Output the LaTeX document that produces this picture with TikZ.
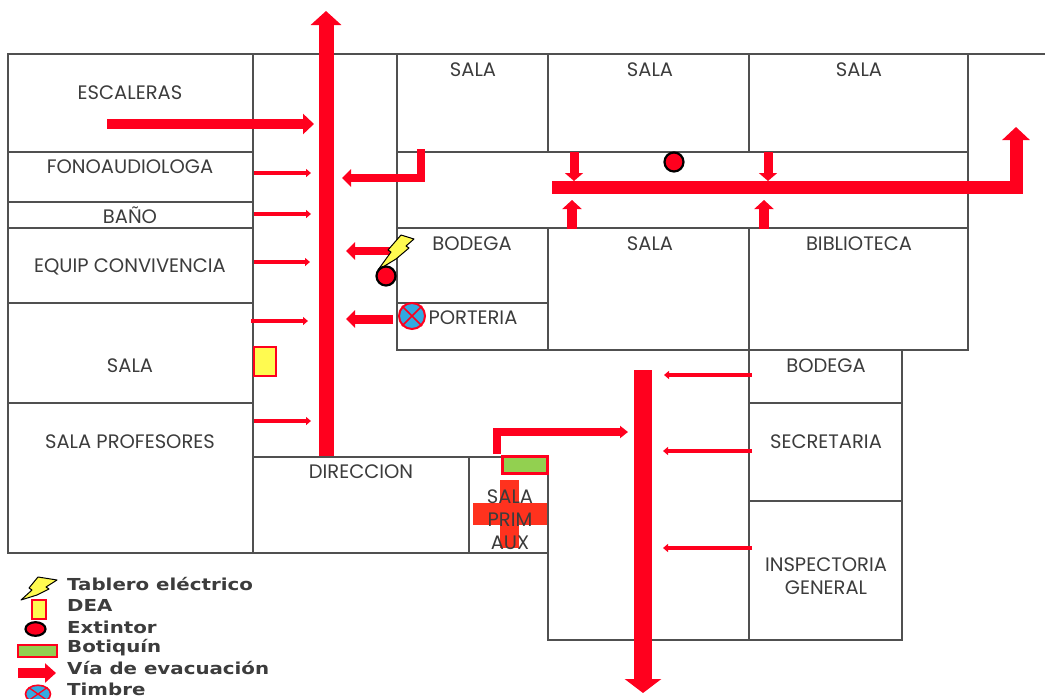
\documentclass[tikz,border=0pt]{standalone}
\usepackage{fontspec}
\setmainfont{Poppins}
\newfontfamily\legfont[FakeStretch=1.2]{DejaVu Sans}
\usetikzlibrary{arrows.meta}
\definecolor{evac}{RGB}{255,0,30}
\definecolor{wall}{RGB}{80,80,80}
\definecolor{txt}{RGB}{60,60,60}
\definecolor{lemon}{RGB}{255,250,80}
\definecolor{aid}{RGB}{146,208,80}
\definecolor{crossred}{RGB}{255,50,30}
\definecolor{bell}{RGB}{50,170,225}
\tikzset{
 x=1pt,y=-1pt,
 wallline/.style={draw=wall,line width=1.1pt},
 lab/.style={text=txt,font=\fontsize{19.5}{23}\selectfont,align=center,inner sep=0pt,yshift=-0.8pt},
 legtext/.style={text=txt,font=\legfont\fontsize{16.5}{18}\selectfont\bfseries,anchor=west,inner sep=0pt},
 thinarrow/.style={draw=evac,line width=3.6pt,-{Triangle[length=5pt,width=8pt]}},
 medarrow/.style={draw=evac,line width=8pt,-{Triangle[length=9pt,width=17pt]}},
 bigarrow/.style={draw=evac,line width=15pt,-{Triangle[length=14pt,width=30pt]}},
 extinguisher/.style={circle,draw=black,fill=evac,line width=2.2pt,minimum size=19pt,inner sep=0pt},
 bolt/.style={draw=black,fill=lemon,line width=1pt,line join=round},
}
\begin{document}
\begin{tikzpicture}
\useasboundingbox (0,0) rectangle (1045,699);
% walls
\draw[wallline] (8,54) rectangle (253,553);
\draw[wallline] (253,54) -- (1045,54);
\foreach \y in {152,202,228,303,403} \draw[wallline] (8,\y) -- (253,\y);
\draw[wallline] (397,54) -- (397,350) -- (968,350) -- (968,54);
\draw[wallline] (397,152) -- (968,152) (397,228) -- (968,228) (397,303) -- (548,303);
\draw[wallline] (548,54) -- (548,152) (548,228) -- (548,350);
\draw[wallline] (749,54) -- (749,152) (749,228) -- (749,640);
\draw[wallline] (253,457) -- (548,457) (469,457) -- (469,553) (253,553) -- (548,553);
\draw[wallline] (548,457) -- (548,640) -- (902,640) -- (902,350);
\draw[wallline] (749,403) -- (902,403) (749,501) -- (902,501);
% cross
\fill[crossred] (500,480) rectangle (519,548);
\fill[crossred] (473,503) rectangle (547,525);
% labels
\node[lab] (escaleras) at (130,92) {ESCALERAS};
\node[lab] (fono) at (130,166) {FONOAUDIOLOGA};
\node[lab] (bano) at (130,214.5) {BAÑO};
\node[lab] (equip) at (130,266) {EQUIP CONVIVENCIA};
\node[lab] (sala1) at (130,365) {SALA};
\node[lab] (profes) at (130,441) {SALA PROFESORES};
\node[lab] (sala2) at (473,69) {SALA};
\node[lab] (sala3) at (650,69) {SALA};
\node[lab] (sala4) at (859,69) {SALA};
\node[lab] (bodega1) at (472,243) {BODEGA};
\node[lab] (sala5) at (650,243) {SALA};
\node[lab] (biblio) at (859,243) {BIBLIOTECA};
\node[lab] (porteria) at (473,317) {PORTERIA};
\node[lab] (bodega2) at (826,365) {BODEGA};
\node[lab] (secre) at (826,441) {SECRETARIA};
\node[lab] (direc) at (361,471) {DIRECCION};
\node[lab] (prim) at (510,519) {SALA\\PRIM\\AUX};
\node[lab] (insp) at (826,575) {INSPECTORIA\\GENERAL};
% big vertical arrows
\draw[bigarrow] (326,456) -- (326,11);
\draw[bigarrow,line width=18pt,-{Triangle[length=14pt,width=36pt]}] (643,370) -- (643,693);
% horizontal arrows
\draw[medarrow,line width=10pt,-{Triangle[length=11pt,width=20pt]}] (107,124) -- (314,124);
\foreach \y/\a/\b in {173/254/311,214/254/311,262/254/310,321/251/308,421/254/311}
  \draw[thinarrow] (\a,\y) -- (\b,\y);
\draw[medarrow,line join=miter] (421,149) -- (421,178) -- (342,178);
\draw[medarrow] (392,251) -- (346,251);
\draw[medarrow,line width=9pt] (393,319) -- (346,319);
\draw[thinarrow,line width=4pt] (752,375) -- (664,375);
\draw[thinarrow,line width=4pt] (752,451) -- (663,451);
\draw[thinarrow,line width=4pt] (752,548) -- (663,548);
\draw[medarrow,line join=miter,-{Triangle[length=8pt,width=12pt]}] (497,454) -- (497,432) -- (628,432);
% corridor
\draw[draw=evac,line width=13pt,line join=miter,-{Triangle[length=13pt,width=27pt]}] (552,187) -- (1016,187) -- (1016,127);
\draw[medarrow,line width=9pt,-{Triangle[length=8pt,width=18pt]}] (574,152) -- (574,181);
\draw[medarrow,line width=9pt,-{Triangle[length=8pt,width=18pt]}] (768,152) -- (768,181);
\draw[medarrow,line width=10pt,-{Triangle[length=9pt,width=19pt]}] (572,229) -- (572,200);
\draw[medarrow,line width=10pt,-{Triangle[length=9pt,width=19pt]}] (764,229) -- (764,200);
% equipment
\path[bolt] (401,235) -- (414,239) -- (406,246) -- (409,248) -- (396,259) -- (378,270) -- (391,252) -- (388,250) -- cycle;
\node[extinguisher] (ext1) at (674,162) {};
\node[extinguisher] (ext2) at (386,276) {};
\node[circle,draw=evac,fill=bell,line width=2pt,minimum size=26pt,inner sep=0pt] (timbre) at (412,316) {};
\draw[evac,line width=1.5pt] (timbre.north west) -- (timbre.south east) (timbre.north east) -- (timbre.south west);
\node[draw=evac,fill=lemon,line width=2pt,minimum width=22pt,minimum height=29pt,inner sep=0pt] (dea) at (265,361) {};
\node[draw=evac,fill=aid,line width=2.6pt,minimum width=45pt,minimum height=17pt,inner sep=0pt] (botiquin) at (525,465) {};
% legend
\path[bolt] (38,577) -- (57,580) -- (46,587) -- (49,589) -- (37,595) -- (21,600) -- (32,590) -- (29,588) -- cycle;
\node[draw=evac,fill=lemon,line width=2pt,minimum width=14pt,minimum height=19pt,inner sep=0pt] (ldea) at (39,609) {};
\node[extinguisher,minimum size=20pt,yscale=.68] (lext) at (35.5,629) {};
\node[draw=evac,fill=aid,line width=2pt,minimum width=39pt,minimum height=12pt,inner sep=0pt] (lbot) at (37.5,650.5) {};
\coordinate (la) at (18,673);
\coordinate (lb) at (56,673);
\draw[medarrow,line width=10pt,-{Triangle[length=11pt,width=19pt]}] (la) -- (lb);
\node[circle,draw=evac,fill=bell,line width=1.6pt,minimum size=25pt,inner sep=0pt,yscale=.7] (ltim) at (38,694) {};
\draw[evac,line width=1.3pt] (ltim.north west) -- (ltim.south east) (ltim.north east) -- (ltim.south west);
\node[legtext] (lt1) at (67,584) {Tablero eléctrico};
\node[legtext] (lt2) at (67,605) {DEA};
\node[legtext] (lt3) at (67,627) {Extintor};
\node[legtext] (lt4) at (67,648) {Botiquín};
\node[legtext] (lt5) at (67,668) {Vía de evacuación};
\node[legtext] (lt6) at (67,689) {Timbre};
\end{tikzpicture}
\end{document}
